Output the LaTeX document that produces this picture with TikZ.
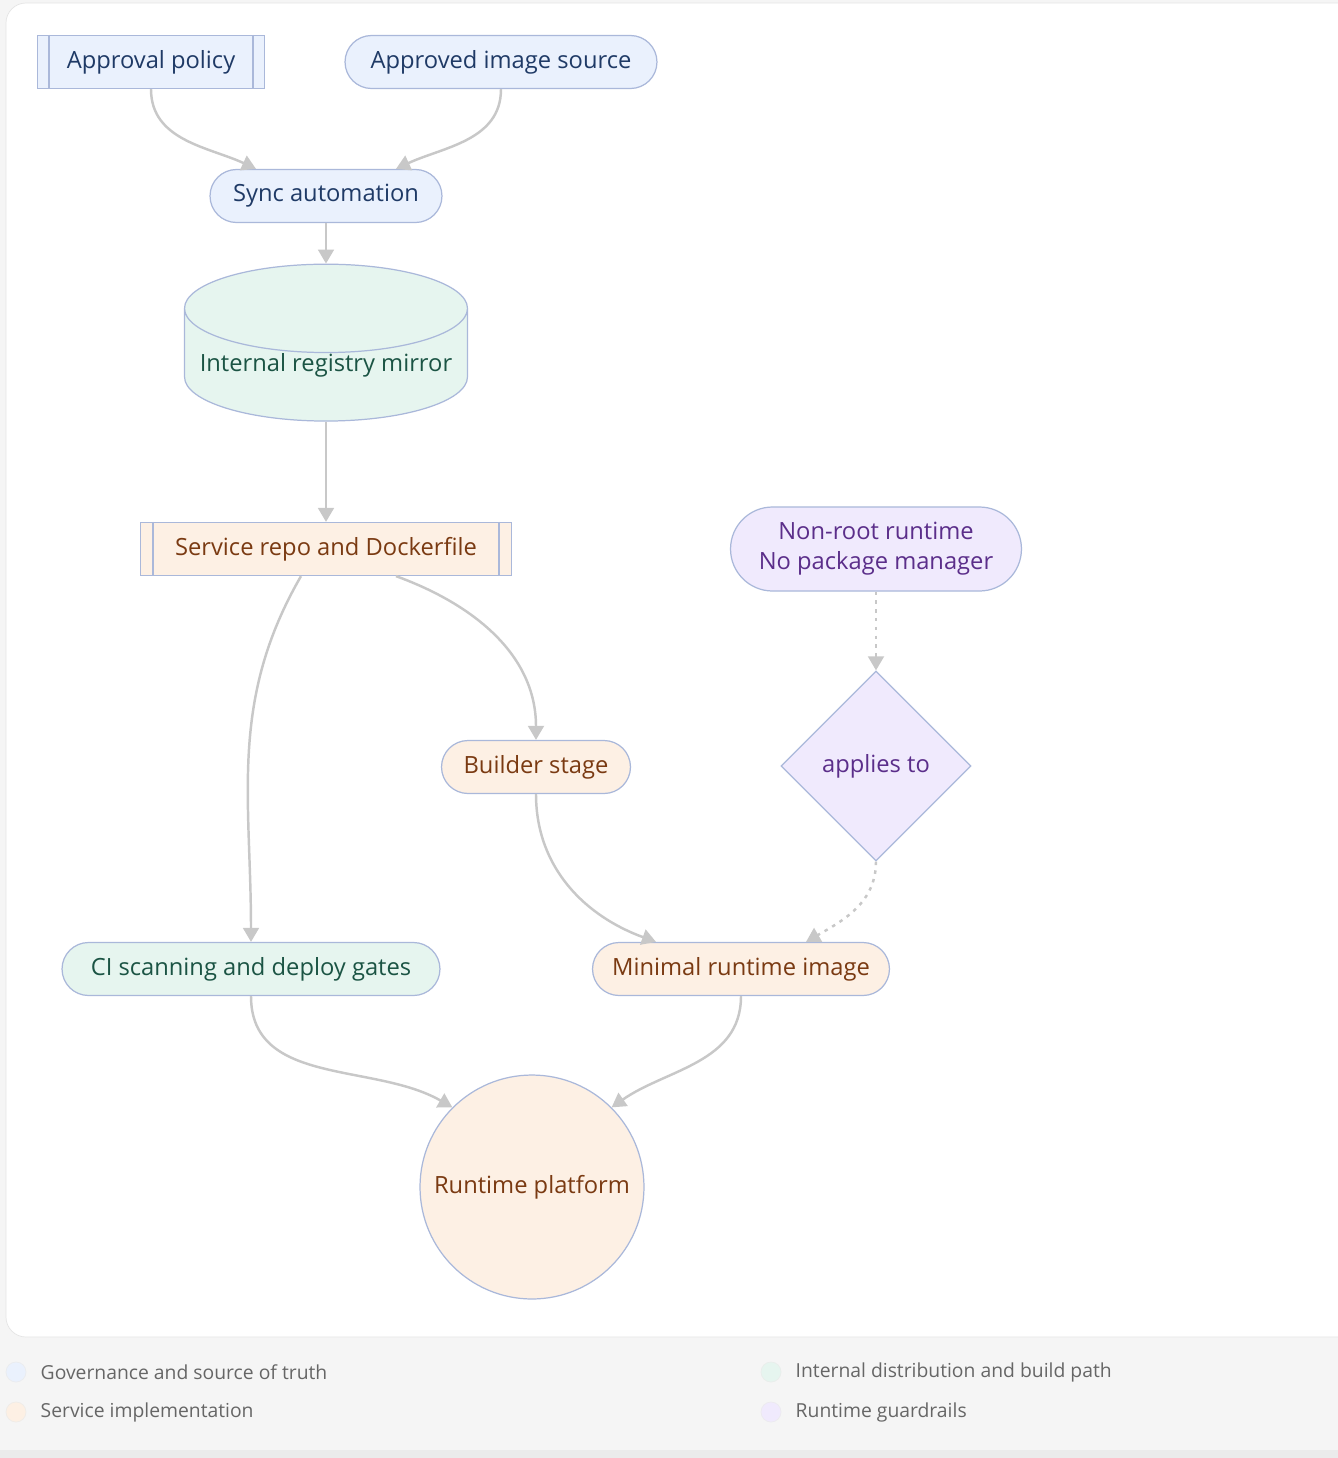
\documentclass[tikz,border=0pt]{standalone}
\usepackage{fontspec}
\setmainfont{Open Sans}
\usetikzlibrary{arrows.meta,shapes.geometric,positioning}
\definecolor{govfill}{HTML}{EAF1FD}
\definecolor{govtext}{HTML}{1F3A66}
\definecolor{grnfill}{HTML}{E6F5EF}
\definecolor{grntext}{HTML}{1B5444}
\definecolor{orgfill}{HTML}{FDF0E4}
\definecolor{orgtext}{HTML}{7A3A12}
\definecolor{prpfill}{HTML}{F0EAFD}
\definecolor{prptext}{HTML}{5B2E8A}
\definecolor{bordc}{HTML}{AAB8DA}
\definecolor{edgec}{HTML}{C8C8C8}
\tikzset{
  base/.style={draw=bordc, line width=0.7pt, font=\fontsize{13.5}{17}\selectfont, align=center, inner sep=0pt},
  pill/.style={base, rounded corners=0.53cm, minimum height=1.06cm},
  subr/.style={base, rectangle, minimum height=1.06cm},
  gov/.style={fill=govfill, text=govtext},
  grn/.style={fill=grnfill, text=grntext},
  org/.style={fill=orgfill, text=orgtext},
  prp/.style={fill=prpfill, text=prptext},
  flow/.style={draw=edgec, line width=1.4pt, -{Triangle[width=9pt,length=8pt]}},
  guard/.style={flow, dash pattern=on 2pt off 3pt},
  legdot/.style={circle, draw=#1!70!gray!40, fill=#1, minimum size=0.4cm, inner sep=0pt},
  legtxt/.style={text=black!60, font=\fontsize{11}{13}\selectfont, anchor=west, inner sep=0pt}
}
\begin{document}
\begin{tikzpicture}[x=0.02cm, y=-0.02cm]
  \useasboundingbox (0,0) rectangle (1338,1458);
  % background and frame
  \fill[black!4] (0,0) rectangle (1338,1458);
  \fill[black!8] (0,1450) rectangle (1338,1458);
  \draw[black!10, fill=white, rounded corners=0.4cm] (6,3) rectangle (1360,1337);

  % governance
  \node (policy) [subr, gov, minimum width=4.54cm] at (151,62) {Approval policy};
  \draw[bordc, line width=0.7pt] ([xshift=0.24cm]policy.north west) -- ([xshift=0.24cm]policy.south west)
    ([xshift=-0.24cm]policy.north east) -- ([xshift=-0.24cm]policy.south east);
  \node (source) [pill, gov, minimum width=6.24cm] at (501,62) {Approved image source};
  \node (sync) [pill, gov, minimum width=4.64cm] at (326,196) {Sync automation};

  % distribution
  \node (mirror) [base, grn, cylinder, shape border rotate=90, aspect=0.35,
    minimum width=5.66cm, minimum height=2.48cm] at (326,365) {Internal registry mirror};
  \node (ci) [pill, grn, minimum width=7.56cm] at (251,969) {CI scanning and deploy gates};

  % service
  \node (repo) [subr, org, minimum width=7.42cm] at (326,549) {Service repo and Dockerfile};
  \draw[bordc, line width=0.7pt] ([xshift=0.26cm]repo.north west) -- ([xshift=0.26cm]repo.south west)
    ([xshift=-0.26cm]repo.north east) -- ([xshift=-0.26cm]repo.south east);
  \node (builder) [pill, org, minimum width=3.78cm] at (536,767) {Builder stage};
  \node (minimal) [pill, org, minimum width=5.94cm] at (741,969) {Minimal runtime image};
  \node (platform) [base, org, circle, minimum size=4.48cm] at (532,1187) {Runtime platform};

  % guardrails
  \node (nonroot) [base, prp, rounded corners=0.84cm, minimum width=5.82cm, minimum height=1.68cm]
    at (876,549) {Non-root runtime\\No package manager};
  \node (applies) [base, prp, diamond, minimum size=3.8cm] at (876,766) {applies to};

  % connectors
  \draw[flow] (policy.south) to[out=-90, in=155] ([xshift=-1.4cm]sync.north);
  \draw[flow] (source.south) to[out=-90, in=25] ([xshift=1.4cm]sync.north);
  \draw[flow] (sync) -- (mirror);
  \draw[flow] (mirror) -- (repo);
  \draw[flow] ([xshift=-0.5cm]repo.south) to[out=-120, in=90] (ci.north);
  \draw[flow] ([xshift=1.4cm]repo.south) to[out=-20, in=90] (builder.north);
  \draw[flow] (builder.south) to[out=-90, in=160] ([xshift=-1.7cm]minimal.north);
  \draw[guard] (nonroot) -- (applies);
  \draw[guard] (applies.south) to[out=-90, in=30] ([xshift=1.3cm]minimal.north);
  \draw[flow] (ci.south) to[out=-90, in=150] (platform.135);
  \draw[flow] (minimal.south) to[out=-90, in=35] (platform.45);

  % legend
  \node (lgov) [legdot=govfill] at (16,1372) {};
  \node [legtxt, right=0.28cm of lgov] {Governance and source of truth};
  \node (lorg) [legdot=orgfill] at (16,1412) {};
  \node [legtxt, right=0.28cm of lorg] {Service implementation};
  \node (lgrn) [legdot=grnfill] at (771,1372) {};
  \node [legtxt, right=0.28cm of lgrn] {Internal distribution and build path};
  \node (lprp) [legdot=prpfill] at (771,1412) {};
  \node [legtxt, right=0.28cm of lprp] {Runtime guardrails};
\end{tikzpicture}
\end{document}
